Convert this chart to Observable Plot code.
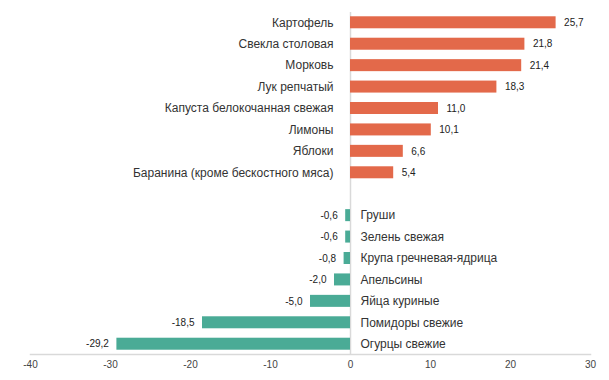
<!DOCTYPE html>
<html><head><meta charset="utf-8">
<script src="https://cdn.jsdelivr.net/npm/d3@7"></script>
<script src="https://cdn.jsdelivr.net/npm/@observablehq/plot@0.6"></script>
<style>
body{margin:0;background:#fff;}
</style>
</head><body><div id="chart"></div>
<script>
const categories = ["Картофель","Свекла столовая","Морковь","Лук репчатый","Капуста белокочанная свежая","Лимоны","Яблоки","Баранина (кроме бескостного мяса)",
  "Груши","Зелень свежая","Крупа гречневая-ядрица","Апельсины","Яйца куриные","Помидоры свежие","Огурцы свежие"];
const values = [25.7,21.8,21.4,18.3,11.0,10.1,6.6,5.4,-0.6,-0.6,-0.8,-2.0,-5.0,-18.5,-29.2];
const xTicks = [-40,-30,-20,-10,0,10,20,30];
const gapRow = " ";

const data = categories.map((c,i)=>({cat:c, v:values[i]}));
const pos = data.filter(d=>d.v>=0), neg = data.filter(d=>d.v<0);
const domain = [...pos.map(d=>d.cat), gapRow, ...neg.map(d=>d.cat)];
const fmt = v => v.toFixed(1).replace(".", ",");

const chart = Plot.plot({
  width: 609, height: 380,
  marginLeft: 30, marginRight: 19, marginTop: 12, marginBottom: 26,
  x: {domain: [-40,30], ticks: xTicks, tickFormat: d=>String(d), label: null},
  y: {domain, paddingInner: 0.44, paddingOuter: 0.2, round: false, axis: null},
  style: {fontSize: "10px", color: "#333", fontFamily: "'Liberation Sans', Arial, sans-serif"},
  marks: [
    Plot.frame({anchor: "bottom", stroke: "#d9d9d9", strokeWidth: 1.5}),
    Plot.ruleX([0], {stroke: "#d9d9d9", strokeWidth: 1.5}),
    Plot.barX(data, {y: "cat", x: "v", fill: d=>d.v>=0 ? "#e3694a" : "#4aab96"}),
    Plot.axisX({ticks: xTicks, tickSize: 0, tickPadding: 6, tickFormat: d=>String(d), fill: "#444", fontSize: 10}),
    Plot.text(pos, {y: "cat", x: 0, text: "cat", textAnchor: "end", dx: -17, fontSize: 12, fill: "#333"}),
    Plot.text(neg, {y: "cat", x: 0, text: "cat", textAnchor: "start", dx: 10, fontSize: 12, fill: "#333"}),
    Plot.text(pos, {y: "cat", x: "v", text: d=>fmt(d.v), textAnchor: "start", dx: 8, fontSize: 10, fill: "#222"}),
    Plot.text(neg, {y: "cat", x: "v", text: d=>fmt(d.v), textAnchor: "end", dx: -8, fontSize: 10, fill: "#222"})
  ]
});
document.getElementById("chart").appendChild(chart);
</script></body></html>
